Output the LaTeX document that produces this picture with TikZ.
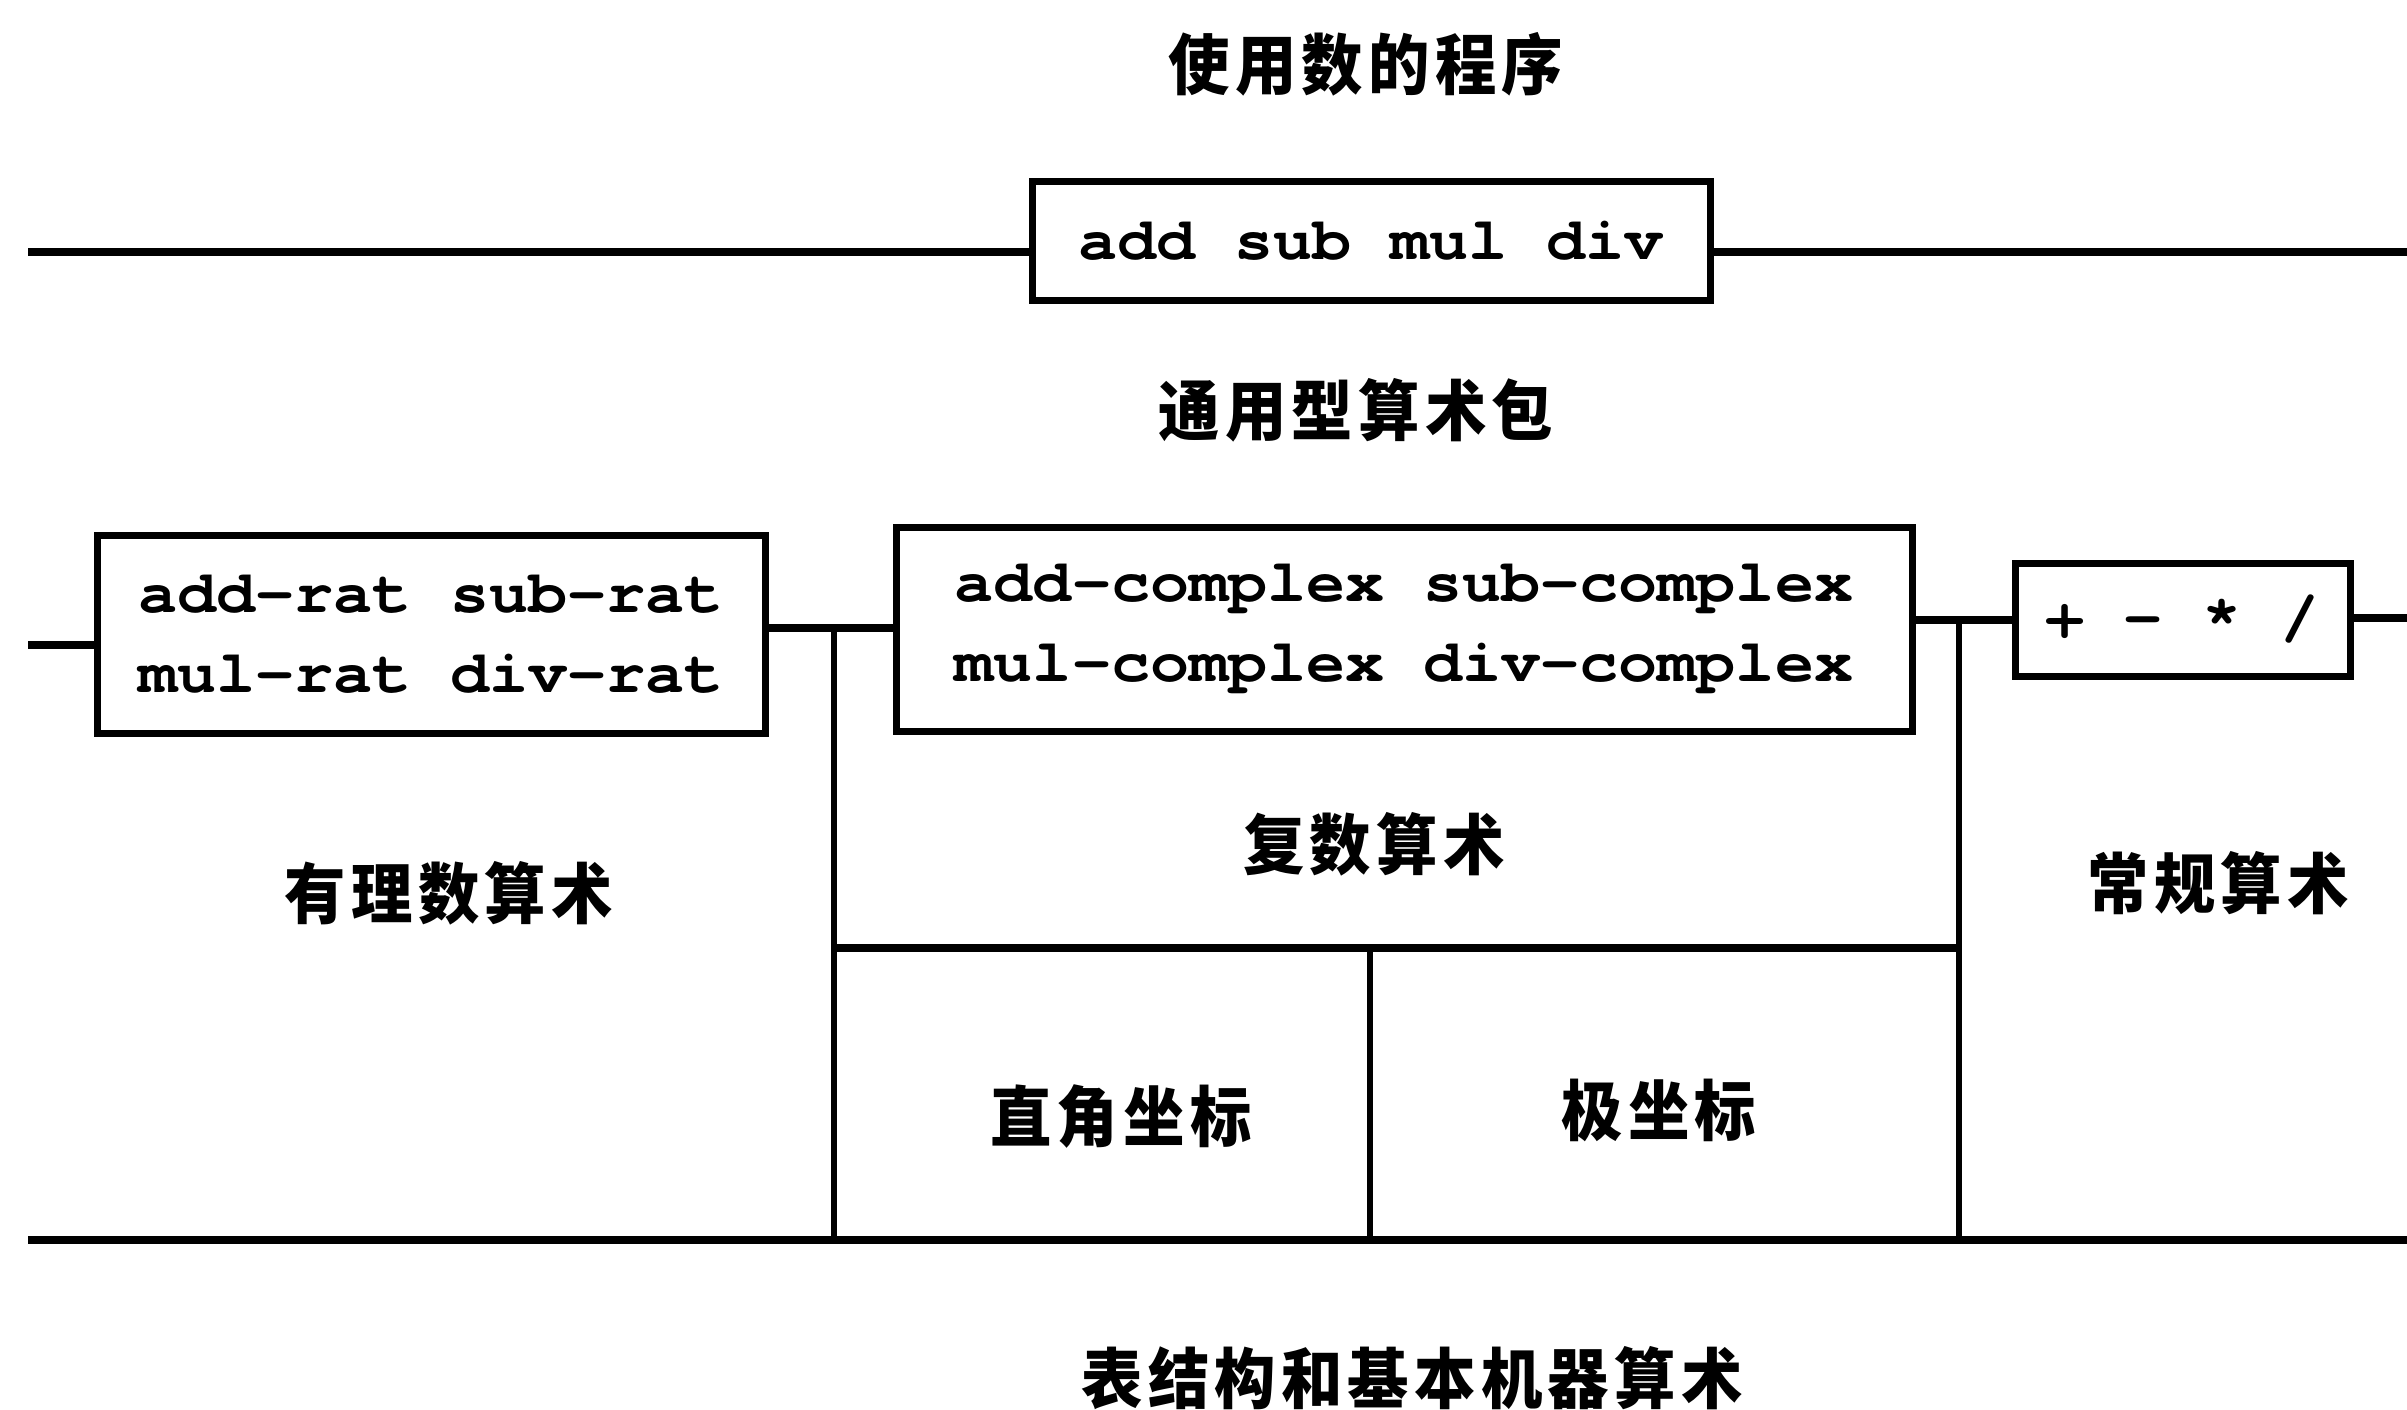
\documentclass[tikz,border=0pt]{standalone}
\usepackage{fontspec}
\newfontfamily\cjk[LetterSpace=8,FakeStretch=0.93]{Noto Sans CJK SC}
\newfontfamily\monof[FakeStretch=1.085]{TeX Gyre Cursor}
\begin{document}
\begin{tikzpicture}[x=0.5pt,y=-0.5pt,
  box/.style={draw, line width=3.5pt, inner sep=0pt, align=center,
    font=\monof\bfseries\fontsize{30}{40}\selectfont},
  lab/.style={inner sep=0pt, font=\cjk\bfseries\fontsize{33}{36}\selectfont},
  ln/.style={line width=4pt},
  vl/.style={line width=3pt}]
\fill[white] (0,0) rectangle (2407,1409);
\useasboundingbox (0,0) rectangle (2407,1409);

% labels
\node[lab] (tprog) at (1366,64) {使用数的程序};
\node[lab] (tgen) at (1356,410) {通用型算术包};
\node[lab] (trat) at (449,893) {有理数算术};
\node[lab] (tcpx) at (1374,844) {复数算术};
\node[lab] (treg) at (2218,883) {常规算术};
\node[lab] (trect) at (1121,1116) {直角坐标};
\node[lab] (tpol) at (1659,1110) {极坐标};
\node[lab] (tbase) at (1412,1378) {表结构和基本机器算术};

% top level
\node[box, minimum width=339pt, minimum height=59.5pt] (top) at (1371,240.5) {add sub mul div};
\coordinate (tl) at (28,252);
\coordinate (tr) at (2407,252);
\draw[ln] (tl) -- (tl -| top.west);
\draw[ln] (top.east |- tr) -- (tr);

% second level
\node[box, minimum width=334pt, minimum height=99pt] (rat) at (431,634) {add-rat sub-rat\\mul-rat div-rat};
\node[box, minimum width=508pt, minimum height=102pt] (cpx) at (1404,629) {add-complex sub-complex\\mul-complex div-complex};
\node[box, minimum width=167.5pt, minimum height=56.5pt] (ops) at (2182.5,619.5) {+ - * /};

\coordinate (sl) at (28,645);
\draw[ln] (sl) -- (sl -| rat.west);
\coordinate (j1) at (834,628);
\draw[ln] (rat.east |- j1) -- (cpx.west |- j1);
\coordinate (j3) at (1959,620);
\draw[ln] (cpx.east |- j3) -- (ops.west |- j3);
\coordinate (or) at (2407,618);
\draw[ln] (ops.east |- or) -- (or);

% bottom
\coordinate (bl) at (28,1240);
\coordinate (br) at (2407,1240);
\draw[ln] (bl) -- (br);
\draw[vl] (j1) -- (j1 |- bl);
\draw[vl] (j3) -- (j3 |- bl);
\coordinate (dl) at (834,948);
\coordinate (dr) at (1959,948);
\draw[ln] (dl) -- (dr);
\coordinate (dm) at (1370,948);
\draw[vl] (dm) -- (dm |- bl);
\end{tikzpicture}
\end{document}
